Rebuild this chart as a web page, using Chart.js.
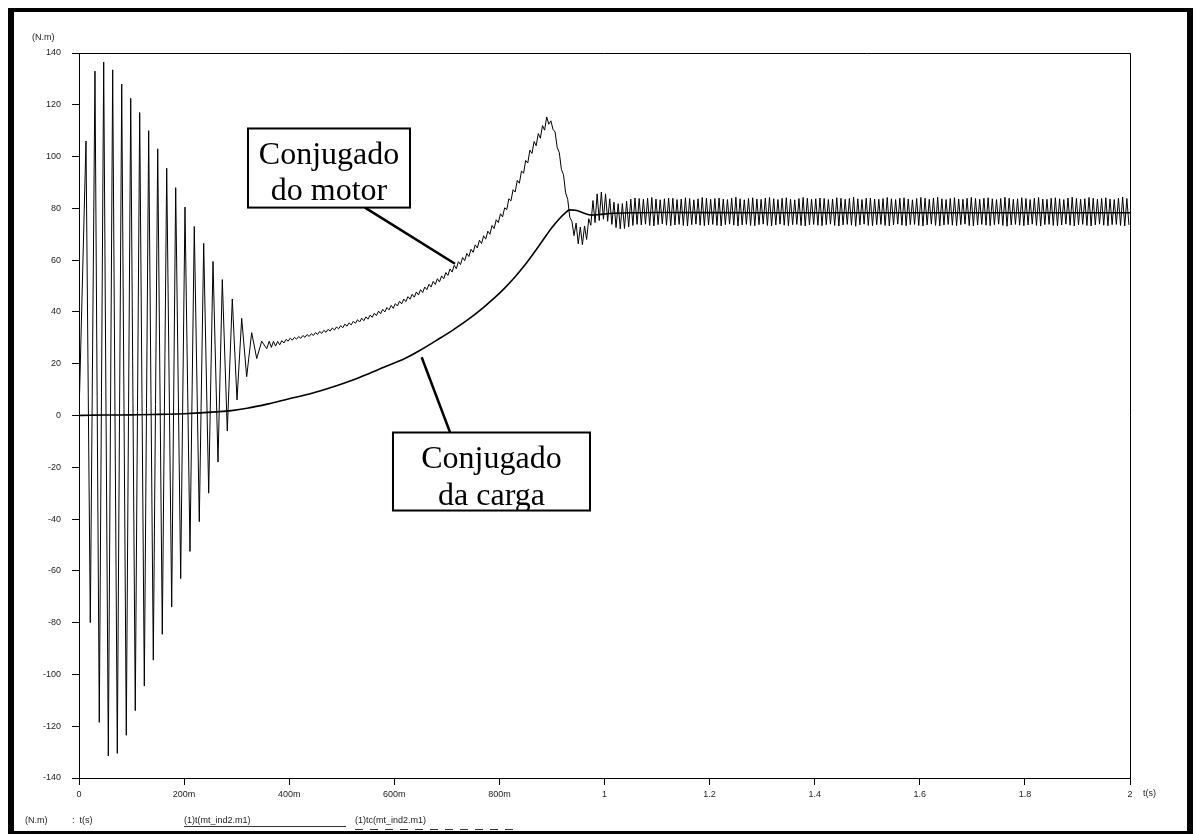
<!DOCTYPE html>
<html>
<head>
<meta charset="utf-8">
<title>Conjugado do motor e da carga</title>
<script src="https://cdn.jsdelivr.net/npm/chart.js@4.4.1/dist/chart.umd.min.js"></script>
<style>
  html, body { margin: 0; padding: 0; background: #fff; }
  canvas { display: block; }
</style>
</head>
<body>
<canvas id="torque" width="1197" height="834"></canvas>
<script>
// partida: picos e vales da oscilação inicial (ms / N.m)
const startupMs = [0, 13.3, 21.5, 30.4, 38.6, 47.0, 55.8, 64.1, 72.9, 81.3, 90.0, 98.4, 107.1, 115.5, 124.3,
  132.6, 141.4, 149.8, 158.5, 166.9, 176.4, 184.0, 193.5, 201.7, 211.2, 219.4, 228.9, 237.3, 246.8, 255.0,
  264.5, 272.7, 282.2, 291.7, 300.7, 309.6, 319.1, 328.6, 338.2, 347.7, 357.2];
const startupTorque = [0, 106, -80, 133, -118.5, 136.5, -131.5, 133.5, -130.5, 128, -123.5, 122.5, -114, 117, -104.5,
  110, -94.5, 103, -84.5, 95.5, -74, 88, -63, 80.5, -52.5, 73, -41, 66.5, -30, 59.5,
  -18, 52.5, -6, 45, 6, 37.5, 15, 32, 22, 28.7, 25.8];

// amostras com passo fixo (s) depois da partida
const sampleStep = 0.004;
const rippleStart = 0.362;
const rippleTorque = [
  28.7, 26.3, 28.6, 26.8, 28.6, 27.3, 28.9, 28.0, 29.4, 28.7, 29.9, 29.1, 30.2, 29.5, 30.5, 29.8, 30.9, 30.2, 31.3, 30.5,
  31.6, 30.9, 32.0, 31.3, 32.5, 31.7, 32.9, 32.1, 33.3, 32.6, 33.8, 33.0, 34.2, 33.5, 34.7, 33.9, 35.3, 34.5, 35.8, 35.0,
  36.4, 35.6, 37.0, 36.1, 37.6, 36.6, 38.1, 37.2, 38.8, 37.9, 39.5, 38.6, 40.3, 39.3, 41.0, 40.0, 41.7, 40.8, 42.5, 41.4,
  43.2, 42.3, 44.1, 43.1, 45.0, 44.0, 45.9, 44.9, 46.8, 45.7, 47.7, 46.6, 48.6, 47.5, 49.6, 48.6, 50.7, 49.6, 51.8, 50.6,
  52.8, 51.6, 53.9, 52.8, 55.2, 54.1, 56.6, 55.4, 58.0, 56.7, 59.4, 58.3, 61.0, 59.8, 62.6, 61.4, 64.2, 63.0, 65.9, 64.7,
  67.7, 66.4, 69.4, 68.1, 71.2, 70.0, 73.4, 72.2, 75.6, 74.5, 77.9, 76.7, 80.2, 79.5, 83.7, 82.9, 87.2, 86.3, 90.8, 89.7,
  94.4, 93.6, 98.5, 97.5, 102.5, 101.2, 105.8, 104.2, 108.9, 107.1, 112.0, 110.2, 115.3];
const settleStart = 0.894;
const settleTorque = [
  112.5, 113.8, 110.5, 109.5, 103.5, 101.5, 95.0, 93.0, 86.0, 83.5, 76.5, 75.0, 69.5, 74.3, 66.3, 72.8, 66.0, 73.2, 68.0, 76.0,
  73.5, 83.0, 74.5, 85.6, 75.3, 86.3, 75.8, 85.6, 75.0, 83.7, 73.8, 82.4, 72.6, 81.8, 72.1, 81.9, 72.2, 82.8, 72.8, 83.6,
  73.4, 84.0, 73.8];
const steadyStart = 1.066;
const steadyTorque = [
  83.8, 73.6, 83.5, 73.9, 83.9, 73.4, 84.2, 73.2, 83.6, 73.7, 83.3, 74.0, 83.7, 73.5, 84.0, 73.3, 83.9, 73.6, 83.4, 73.8,
  83.6, 73.4, 84.1, 73.2, 83.8, 73.7, 83.3, 73.9, 83.7, 73.5, 84.2, 73.3, 83.9, 73.6, 83.5, 73.8, 83.8, 73.4, 84.0, 73.2,
  83.6, 73.7, 83.4, 73.9, 83.9, 73.5, 84.3, 73.2, 83.7, 73.6, 83.3, 73.8, 83.8, 73.4, 84.1, 73.3, 83.6, 73.7, 83.5, 73.9,
  84.0, 73.4, 84.2, 73.2, 83.7, 73.6, 83.4, 73.9, 83.9, 73.5, 84.1, 73.3, 83.6, 73.7, 83.3, 73.8, 83.8, 73.4, 84.2, 73.2,
  83.9, 73.6, 83.5, 73.8, 83.7, 73.5, 84.0, 73.3, 83.8, 73.7, 83.4, 73.9, 83.6, 73.4, 84.1, 73.2, 83.9, 73.6, 83.5, 73.8,
  83.8, 73.5, 84.3, 73.1, 83.7, 73.6, 83.4, 73.9, 83.9, 73.4, 84.0, 73.3, 83.6, 73.7, 83.5, 73.8, 83.8, 73.4, 84.2, 73.2,
  83.7, 73.6, 83.4, 73.9, 83.9, 73.5, 84.1, 73.3, 83.6, 73.7, 83.3, 73.8, 83.8, 73.4, 84.2, 73.2, 83.9, 73.6, 83.5, 73.9,
  84.0, 73.4, 84.3, 73.2, 83.7, 73.6, 83.4, 73.8, 83.8, 73.5, 84.1, 73.3, 83.6, 73.7, 83.5, 73.9, 83.9, 73.4, 84.2, 73.2,
  83.8, 73.6, 83.5, 73.8, 83.9, 73.5, 84.1, 73.3, 83.7, 73.7, 83.4, 73.9, 83.8, 73.4, 84.3, 73.1, 83.9, 73.6, 83.5, 73.8,
  83.7, 73.5, 84.1, 73.3, 83.8, 73.6, 83.4, 73.9, 83.9, 73.4, 84.2, 73.2, 83.6, 73.7, 83.5, 73.8, 83.9, 73.4, 84.1, 73.3,
  83.7, 73.6, 83.4, 73.9, 84.0, 73.5, 84.3, 73.2, 83.8, 73.6, 83.5, 73.8, 83.7, 73.4, 84.2, 73.2, 83.9, 73.6, 83.5, 73.9,
  83.8, 73.5, 84.1, 73.3, 83.6, 73.7, 83.4, 73.8, 83.9, 73.4, 84.4, 73.2, 83.8, 73.6];

// conjugado da carga (s / N.m)
const loadTime = [0, 0.02, 0.05, 0.08, 0.11, 0.14, 0.17, 0.2, 0.23, 0.26, 0.29, 0.32, 0.36, 0.40, 0.43, 0.46,
  0.49, 0.52, 0.55, 0.58, 0.62, 0.65, 0.68, 0.71, 0.74, 0.77, 0.79, 0.81, 0.83, 0.85, 0.87, 0.89, 0.90,
  0.915, 0.925, 0.934, 0.945, 0.96, 0.975, 0.99, 1.01, 1.05, 1.1, 1.3, 1.6, 2.0];
const loadTorque = [0, 0.1, 0.2, 0.2, 0.3, 0.4, 0.5, 0.7, 1.0, 1.4, 1.9, 2.8, 4.5, 6.5, 7.9, 9.6,
  11.5, 13.6, 16, 18.6, 22, 25.3, 29, 32.8, 37, 41.8, 45.3, 49.2, 53.6, 58.5, 64, 69.8, 72.6,
  76.2, 78.2, 79.4, 79.3, 78.2, 77.4, 77.6, 78.0, 78.3, 78.4, 78.3, 78.3, 78.3];

const xTickLabels = ['0', '200m', '400m', '600m', '800m', '1', '1.2', '1.4', '1.6', '1.8', '2'];

const sampled = (t0, values) => values.map((v, i) => ({x: t0 + i * sampleStep, y: v}));

const motorPoints = [
  ...startupMs.map((ms, i) => ({x: ms / 1000, y: startupTorque[i]})),
  ...sampled(rippleStart, rippleTorque),
  ...sampled(settleStart, settleTorque),
  ...sampled(steadyStart, steadyTorque),
];
const loadPoints = loadTime.map((t, i) => ({x: t, y: loadTorque[i]}));

// caixas de texto, em coordenadas dos dados
const callouts = [
  {lines: ['Conjugado', 'do motor'], box: [0.3216, 110.85, 0.6299, 80.3], from: [0.5442, 80.3], to: [0.7155, 58.6]},
  {lines: ['Conjugado', 'da carga'], box: [0.5975, -6.57, 0.9724, -36.7], from: [0.6521, 22.5], to: [0.706, -6.45]},
];

const smallFont = '9px "Liberation Sans", Arial, sans-serif';

const decorations = {
  id: 'decorations',
  beforeDraw(chart) {
    const {ctx, width, height} = chart;
    ctx.save();
    ctx.fillStyle = '#fff';
    ctx.fillRect(0, 0, width, height);
    ctx.restore();
  },
  afterDraw(chart) {
    const {ctx, chartArea: a, scales: {x, y}} = chart;
    ctx.save();

    // moldura do gráfico (topo e direita)
    ctx.strokeStyle = '#000';
    ctx.lineWidth = 1;
    ctx.beginPath();
    ctx.moveTo(a.left, Math.round(a.top) + 0.5);
    ctx.lineTo(Math.round(a.right) + 0.5, Math.round(a.top) + 0.5);
    ctx.lineTo(Math.round(a.right) + 0.5, a.bottom);
    ctx.stroke();

    ctx.font = smallFont;
    ctx.fillStyle = '#222';
    ctx.textBaseline = 'middle';
    ctx.textAlign = 'left';
    ctx.fillText('(N.m)', 32, 38);
    ctx.fillText('t(s)', a.right + 13, 794);

    // legenda inferior
    ctx.fillText('(N.m)', 25, 821);
    ctx.fillText(':  t(s)', 72, 821);
    ctx.fillText('(1)t(mt_ind2.m1)', 184, 821);
    ctx.fillText('(1)tc(mt_ind2.m1)', 355, 821);
    ctx.strokeStyle = '#333';
    ctx.beginPath();
    ctx.moveTo(184, 826.5);
    ctx.lineTo(346, 826.5);
    ctx.stroke();
    ctx.setLineDash([8, 7]);
    ctx.beginPath();
    ctx.moveTo(355, 829.5);
    ctx.lineTo(516, 829.5);
    ctx.stroke();
    ctx.setLineDash([]);

    // anotações
    callouts.forEach(c => {
      const x0 = x.getPixelForValue(c.box[0]), y0 = y.getPixelForValue(c.box[1]);
      const x1 = x.getPixelForValue(c.box[2]), y1 = y.getPixelForValue(c.box[3]);
      ctx.strokeStyle = '#000';
      ctx.lineWidth = 2.5;
      ctx.beginPath();
      ctx.moveTo(x.getPixelForValue(c.from[0]), y.getPixelForValue(c.from[1]));
      ctx.lineTo(x.getPixelForValue(c.to[0]), y.getPixelForValue(c.to[1]));
      ctx.stroke();

      ctx.fillStyle = '#fff';
      ctx.fillRect(x0, y0, x1 - x0, y1 - y0);
      ctx.save();
      ctx.beginPath();
      ctx.rect(x0, y0, x1 - x0, y1 - y0);
      ctx.clip();
      ctx.fillStyle = '#000';
      ctx.font = '32px "Liberation Serif", "Times New Roman", serif';
      ctx.textAlign = 'center';
      ctx.textBaseline = 'alphabetic';
      const cx = (x0 + x1) / 2;
      ctx.fillText(c.lines[0], cx, y0 + 35.5);
      ctx.fillText(c.lines[1], cx, y0 + 72);
      ctx.restore();
      ctx.lineWidth = 2;
      ctx.strokeRect(x0, y0, x1 - x0, y1 - y0);
    });

    // moldura externa
    ctx.fillStyle = '#000';
    ctx.fillRect(8, 8, 6, 826);
    ctx.fillRect(8, 8, 1185, 4);
    ctx.fillRect(1187, 8, 6, 826);
    ctx.fillRect(8, 831, 1185, 3);
    ctx.restore();
  }
};

new Chart('torque', {
  type: 'scatter',
  data: {
    datasets: [
      {
        label: '(1)tc(mt_ind2.m1)',
        data: loadPoints,
        showLine: true,
        borderColor: '#000',
        borderWidth: 1.6,
        pointRadius: 0,
        cubicInterpolationMode: 'monotone',
      },
      {
        label: '(1)t(mt_ind2.m1)',
        data: motorPoints,
        showLine: true,
        borderColor: '#000',
        borderWidth: 1,
        pointRadius: 0,
        tension: 0,
      },
    ],
  },
  options: {
    responsive: false,
    animation: false,
    devicePixelRatio: 1,
    layout: {padding: {top: 53, right: 67, left: 0, bottom: 0}},
    plugins: {
      legend: {display: false},
      tooltip: {enabled: false},
    },
    scales: {
      x: {
        type: 'linear',
        min: 0,
        max: 2,
        afterFit(scale) { scale.height = 56; },
        ticks: {
          stepSize: 0.2,
          autoSkip: false,
          maxRotation: 0,
          padding: 4,
          color: '#222',
          font: {family: '"Liberation Sans", Arial, sans-serif', size: 9},
          callback: (v, i) => xTickLabels[i],
        },
        grid: {drawOnChartArea: false, drawTicks: true, tickLength: 7, color: '#000'},
        border: {display: true, color: '#000', width: 1},
      },
      y: {
        min: -140,
        max: 140,
        afterFit(scale) { scale.width = 79; },
        ticks: {
          stepSize: 20,
          padding: 11,
          color: '#222',
          font: {family: '"Liberation Sans", Arial, sans-serif', size: 9},
        },
        grid: {drawOnChartArea: false, drawTicks: true, tickLength: 7, color: '#000'},
        border: {display: true, color: '#000', width: 1},
      },
    },
  },
  plugins: [decorations],
});
</script>
</body>
</html>
